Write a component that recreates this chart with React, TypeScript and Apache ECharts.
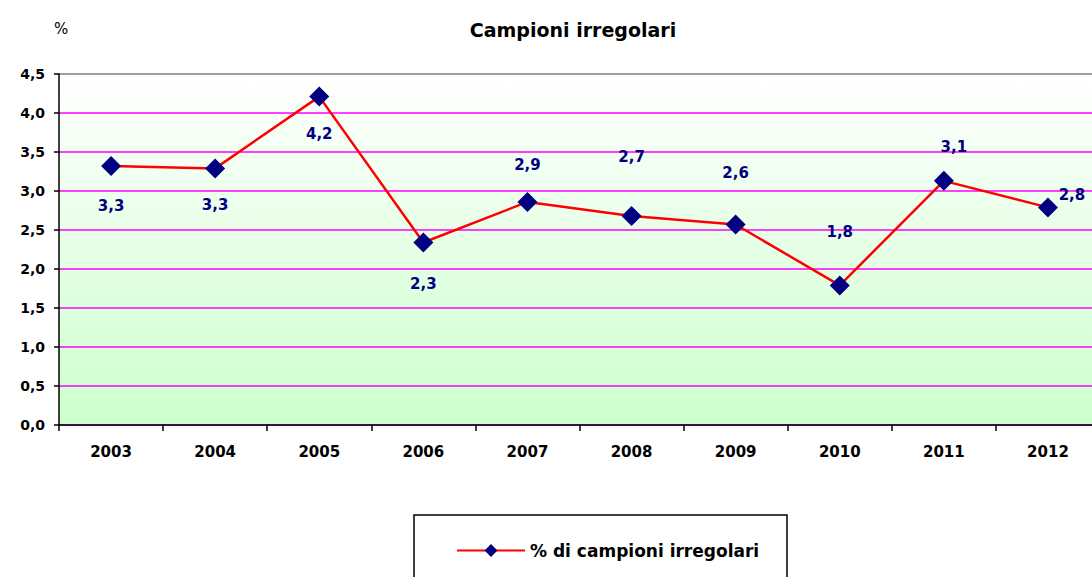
import React, { useEffect, useRef } from "react";
import * as echarts from "echarts";

const years = ["2003", "2004", "2005", "2006", "2007", "2008", "2009", "2010", "2011", "2012"];
const irregolari = [3.32, 3.29, 4.21, 2.34, 2.86, 2.68, 2.57, 1.79, 3.13, 2.79];
const seriesName = "% di campioni irregolari";
const labelOffsets: number[][] = [
  [0, 40], [0, 37], [0, 37], [0, 42], [0, -37], [0, -59], [0, -52], [0, -53], [10, -34], [24, -12],
];

const FONT = "DejaVu Sans";

export default function App() {
  const ref = useRef<HTMLDivElement>(null);
  useEffect(() => {
    document.body.style.margin = "0";
    document.body.style.overflow = "hidden";
    const chart = echarts.init(ref.current!, null, { renderer: "svg" });
    const fmt = (v: number) => v.toFixed(1).replace(".", ",");
    chart.setOption({
      animation: false,
      backgroundColor: "#ffffff",
      textStyle: { fontFamily: FONT },
      title: {
        text: "Campioni irregolari",
        left: 568,
        top: 15,
        textAlign: "center",
        textStyle: { fontFamily: FONT, fontSize: 19, fontWeight: "bold", color: "#000" },
      },
      grid: {
        left: 59,
        top: 74,
        width: 1041,
        height: 351,
        show: true,
        borderWidth: 0,
        backgroundColor: new echarts.graphic.LinearGradient(0, 0, 0, 1, [
          { offset: 0, color: "#ffffff" },
          { offset: 1, color: "#ccffcc" },
        ]),
      },
      legend: {
        left: 451,
        top: 537,
        itemWidth: 68,
        itemHeight: 16,
        itemGap: 4,
        textStyle: { fontFamily: FONT, fontSize: 17, fontWeight: "bold", color: "#000" },
        data: [seriesName],
      },
      graphic: [
        { type: "text", left: 54, top: 21, style: { text: "%", font: `15px ${FONT}`, fill: "#000" } },
        {
          type: "rect",
          shape: { x: 414, y: 515, width: 373, height: 80 },
          style: { fill: "none", stroke: "#000", lineWidth: 1.5 },
          z: -1,
        },
      ],
      xAxis: {
        type: "category",
        data: years,
        boundaryGap: true,
        axisLine: { show: true, lineStyle: { color: "#000", width: 1.5 } },
        axisTick: { show: true, length: 6, lineStyle: { color: "#000", width: 1.5 } },
        axisLabel: { margin: 19, fontFamily: FONT, fontSize: 15, fontWeight: "bold", color: "#000" },
      },
      yAxis: {
        type: "value",
        min: 0,
        max: 4.5,
        interval: 0.5,
        axisLine: { show: true, lineStyle: { color: "#000", width: 1.5 } },
        axisTick: { show: true, length: 5, lineStyle: { color: "#000", width: 1.5 } },
        axisLabel: {
          margin: 14,
          fontFamily: FONT,
          fontSize: 14,
          fontWeight: "bold",
          color: "#000",
          formatter: (v: number) => fmt(v),
        },
        splitLine: {
          show: true,
          lineStyle: {
            width: 1.5,
            color: ["#ff00ff", "#ff00ff", "#ff00ff", "#ff00ff", "#ff00ff", "#ff00ff", "#ff00ff", "#ff00ff", "#ff00ff", "#808080"],
          },
        },
      },
      series: [
        {
          name: seriesName,
          type: "line",
          symbol: "diamond",
          symbolSize: 20,
          itemStyle: { color: "#000080" },
          lineStyle: { color: "#ff0000", width: 2.5 },
          data: irregolari.map((v, i) => ({
            value: v,
            label: { offset: labelOffsets[i] },
          })),
          label: {
            show: true,
            position: "inside",
            fontFamily: FONT,
            fontSize: 15,
            fontWeight: "bold",
            color: "#000080",
            formatter: (p: any) => fmt(p.value),
          },
        },
      ],
    });
    return () => chart.dispose();
  }, []);
  return (
    <div style={{ width: 1092, height: 577, overflow: "hidden", position: "relative" }}>
      <div ref={ref} style={{ width: 1112, height: 577 }} />
    </div>
  );
}
